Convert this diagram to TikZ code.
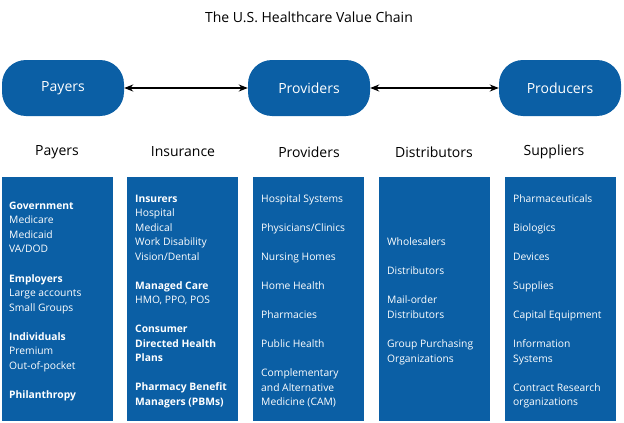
\documentclass[tikz,border=0pt]{standalone}
\usepackage{fontspec}
\setmainfont{Open Sans}
\usetikzlibrary{arrows.meta}
\definecolor{hblue}{HTML}{0B5FA5}
\tikzset{
 pill/.style={fill=hblue,rounded corners=24pt,minimum width=122pt,minimum height=56pt,text=white,font=\fontsize{14}{16}\selectfont},
 col/.style={fill=hblue},
 hdr/.style={font=\fontsize{14}{16}\selectfont},
 ln/.style={anchor=base west,inner sep=0,text=white,font=\fontsize{10.3}{12}\selectfont},
 conn/.style={{Stealth[length=9pt,width=7pt]}-{Stealth[length=9pt,width=7pt]},line width=1.6pt}
}
\begin{document}
\begin{tikzpicture}[x=1pt,y=-1pt]
\useasboundingbox (0,0) rectangle (624,423);
\node[hdr] (title) at (309,17) {The U.S. Healthcare Value Chain};
\node[pill] (pay) at (63,88) {Payers};
\node[pill] (prov) at (309,88) {Providers};
\node[pill] (prod) at (560,88) {Producers};
\draw[conn] (pay.east) -- (prov.west);
\draw[conn] (prov.east) -- (prod.west);
\foreach \n/\x/\t in {h1/57/Payers,h2/183/Insurance,h3/309/Providers,h4/434/Distributors,h5/554/Suppliers}
  \node[hdr] (\n) at (\x,152) {\t};
\foreach \n/\x in {b1/2,b2/127,b3/253,b4/379,b5/505}
  \path[col] (\x,177) rectangle ++(111,244) node[pos=0,anchor=north west,inner sep=0] (\n) {};
\foreach \t/\y in {{\textbf{Government}}/205,Medicare/219,Medicaid/234,{VA/DOD}/248,{\textbf{Employers}}/278,Large accounts/292,Small Groups/307,{\textbf{Individuals}}/336,Premium/350,Out-of-pocket/365,{\textbf{Philanthropy}}/394}
  \node[ln] at (9,\y+4) {\t};
\foreach \t/\y in {{\textbf{Insurers}}/198,Hospital/212,Medical/227,Work Disability/241,{Vision/Dental}/256,{\textbf{Managed Care}}/285,{HMO, PPO, POS}/299,{\textbf{Consumer}}/328,{\textbf{Directed Health}}/343,{\textbf{Plans}}/357,{\textbf{Pharmacy Benefit}}/386,{\textbf{Managers (PBMs)}}/401}
  \node[ln] at (135,\y+4) {\t};
\foreach \t/\y in {Hospital Systems/198,{Physicians/Clinics}/227,Nursing Homes/256,Home Health/285,Pharmacies/314,Public Health/343,Complementary/372,and Alternative/387,Medicine (CAM)/401}
  \node[ln] at (261,\y+4) {\t};
\foreach \t/\y in {Wholesalers/241,Distributors/270,Mail-order/299,Distributors/314,Group Purchasing/343,Organizations/358}
  \node[ln] at (387,\y+4) {\t};
\foreach \t/\y in {Pharmaceuticals/198,Biologics/227,Devices/256,Supplies/285,Capital Equipment/314,Information/343,Systems/358,Contract Research/387,organizations/401}
  \node[ln] at (513,\y+4) {\t};
\end{tikzpicture}
\end{document}
